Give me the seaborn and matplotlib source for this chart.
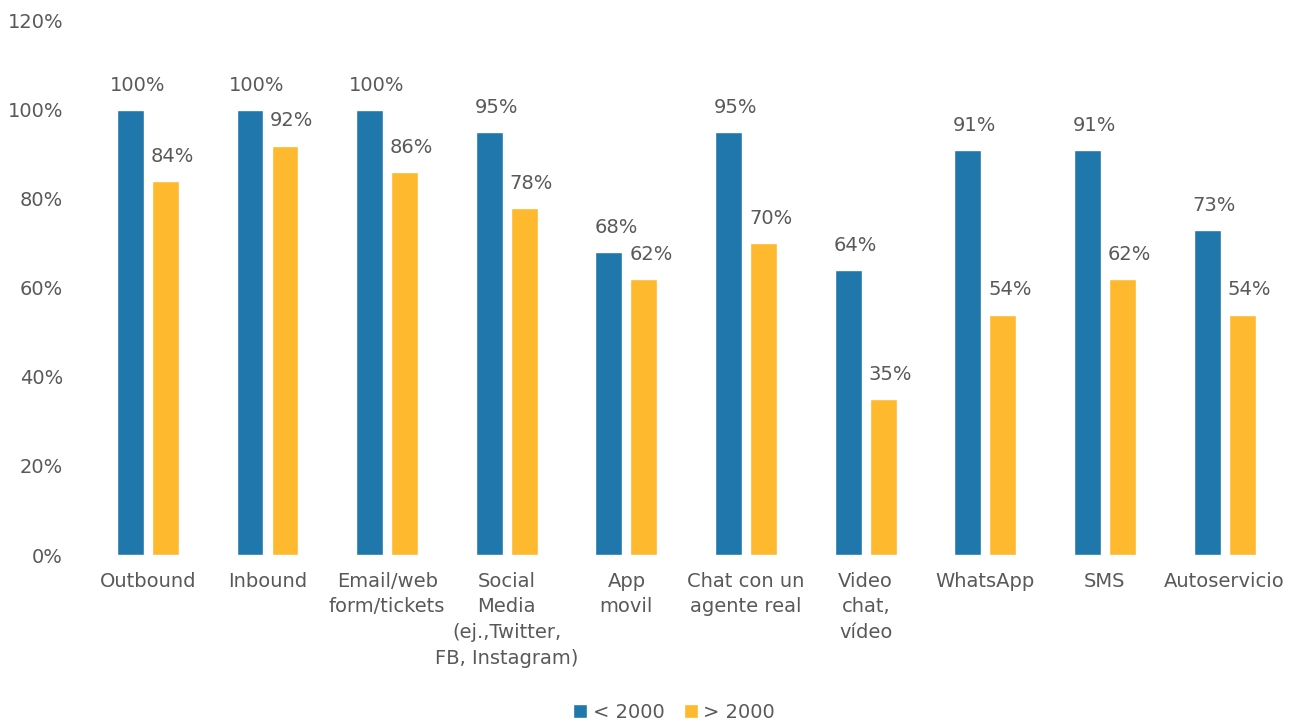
import pandas as pd
import seaborn as sns
from matplotlib import pyplot as plt
from matplotlib.ticker import FuncFormatter

categories = ["Outbound", "Inbound", "Email/web\nform/tickets",
              "Social\nMedia\n(ej.,Twitter,\nFB, Instagram)", "App\nmovil",
              "Chat con un\nagente real", "Video\nchat,\nvídeo", "WhatsApp",
              "SMS", "Autoservicio"]
under_2000 = [100, 100, 100, 95, 68, 95, 64, 91, 91, 73]
over_2000 = [84, 92, 86, 78, 62, 70, 35, 54, 62, 54]
series = ["< 2000", "> 2000"]
colors = ["#1f77ab", "#ffb92f"]

df = pd.DataFrame({
    "Canal": categories * 2,
    "Valor": under_2000 + over_2000,
    "Grupo": [series[0]] * len(categories) + [series[1]] * len(categories),
})

sns.set_style("white")
plt.rcParams["font.family"] = ["DejaVu Sans"]
text_color = "#595959"
fs = 14

fig = plt.figure(figsize=(13.08, 7.22), dpi=100)
ax = fig.add_axes([0.0673, 0.2313, 0.9147, 0.7397])

sns.barplot(data=df, x="Canal", y="Valor", hue="Grupo", order=categories,
            hue_order=series, palette=colors, width=0.585, gap=0.23,
            saturation=1, ax=ax)

# value labels, nudged a little to the right like the original
for cont in ax.containers:
    for bar, v in zip(cont.patches, cont.datavalues):
        ax.annotate(f"{v:.0f}%", (bar.get_x() + bar.get_width() / 2, v),
                    xytext=(5, 11), textcoords="offset points",
                    ha="center", va="bottom", fontsize=fs, color=text_color)

ax.set_ylim(0, 120)
ax.set_yticks(range(0, 121, 20))
ax.yaxis.set_major_formatter(FuncFormatter(lambda v, _: f"{v:.0f}%"))
ax.set_xlabel("")
ax.set_ylabel("")
ax.tick_params(axis="both", length=0, labelsize=fs, colors=text_color)
ax.tick_params(axis="y", pad=18)
ax.tick_params(axis="x", pad=12)
for lab in ax.get_xticklabels():
    lab.set_linespacing(1.45)
sns.despine(left=True, bottom=True)

ax.legend(loc="lower center", bbox_to_anchor=(0.49, -0.345), ncol=2,
          frameon=False, fontsize=fs, handlelength=0.7, handleheight=0.7,
          handletextpad=0.3, columnspacing=1.0, labelcolor=text_color)

fig.savefig("out.png", dpi=100)
